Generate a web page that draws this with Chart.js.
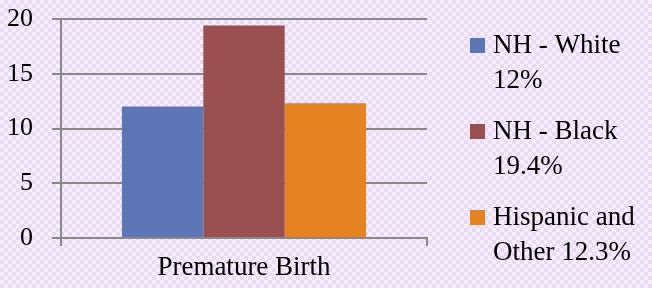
<!DOCTYPE html>
<html><head><meta charset="utf-8">
<script src="https://cdn.jsdelivr.net/npm/chart.js@4/dist/chart.umd.min.js"></script>
<style>
html,body{margin:0;padding:0;}
body{width:652px;height:288px;overflow:hidden;
background-color:#f6effb;
background-image:
 linear-gradient(45deg,#e8daf4 25%,transparent 25%,transparent 75%,#e8daf4 75%),
 linear-gradient(45deg,#e8daf4 25%,transparent 25%,transparent 75%,#e8daf4 75%);
background-size:8px 8px;background-position:0 0,4px 4px;}
#wrap{position:absolute;left:0;top:0;width:652px;height:288px;}
</style></head>
<body><div id="wrap"><canvas id="c" width="652" height="288"></canvas></div>
<script>
const categories = ["Premature Birth"];
const seriesNames = ["NH - White", "NH - Black", "Hispanic and Other"];
const legendLines = [["NH - White", "12%"], ["NH - Black", "19.4%"], ["Hispanic and", "Other 12.3%"]];
const seriesValues = [[12], [19.4], [12.3]];
const seriesColors = ["#5e75b5", "#9a5051", "#e58322"];
const yTicks = [0, 5, 10, 15, 20];

const FONT = "'Liberation Serif', 'Times New Roman', serif";

const legendPlugin = {
  id: 'sideLegend',
  afterDraw(chart) {
    const ctx = chart.ctx;
    const x0 = chart.chartArea.right + 43;
    const baseTop = chart.chartArea.top + 34;
    ctx.save();
    ctx.font = "27px " + FONT;
    ctx.textBaseline = 'alphabetic';
    ctx.textAlign = 'left';
    chart.data.datasets.forEach((ds, i) => {
      const b = baseTop + i * 86;
      ctx.fillStyle = ds.backgroundColor;
      ctx.fillRect(x0, b - 15, 15, 15);
      ctx.fillStyle = '#000';
      legendLines[i].forEach((ln, j) => ctx.fillText(ln, x0 + 23, b + j * 35));
    });
    ctx.restore();
  }
};

new Chart(document.getElementById('c'), {
  type: 'bar',
  data: {
    labels: categories,
    datasets: seriesNames.map((n, i) => ({
      label: n, data: seriesValues[i], backgroundColor: seriesColors[i],
      categoryPercentage: 0.667, barPercentage: 1.0, borderWidth: 0
    }))
  },
  options: {
    responsive: false, animation: false,
    devicePixelRatio: 1,
    layout: { padding: { top: 19, right: 225, left: 0, bottom: 0 } },
    plugins: { legend: { display: false }, tooltip: { enabled: false } },
    scales: {
      x: {
        offset: true,
        grid: { offset: true, drawOnChartArea: false, tickLength: 8, color: '#888', lineWidth: 2 },
        border: { display: true, color: '#888', width: 2 },
        ticks: { color: '#000', font: { family: FONT, size: 27 }, padding: 6 },
        afterFit(s) { s.height = 50; s.paddingLeft = 0; s.paddingRight = 0; }
      },
      y: {
        min: 0, max: 20,
        afterBuildTicks(s) { s.ticks = yTicks.map(v => ({ value: v })); },
        grid: { color: '#888', lineWidth: 2, tickLength: 9 },
        border: { display: true, color: '#888', width: 2 },
        ticks: { color: '#000', font: { family: FONT, size: 26 }, padding: 19 },
        afterFit(s) { s.width = 61; s.paddingTop = 0; s.paddingBottom = 0; }
      }
    }
  },
  plugins: [legendPlugin]
});
</script></body></html>
